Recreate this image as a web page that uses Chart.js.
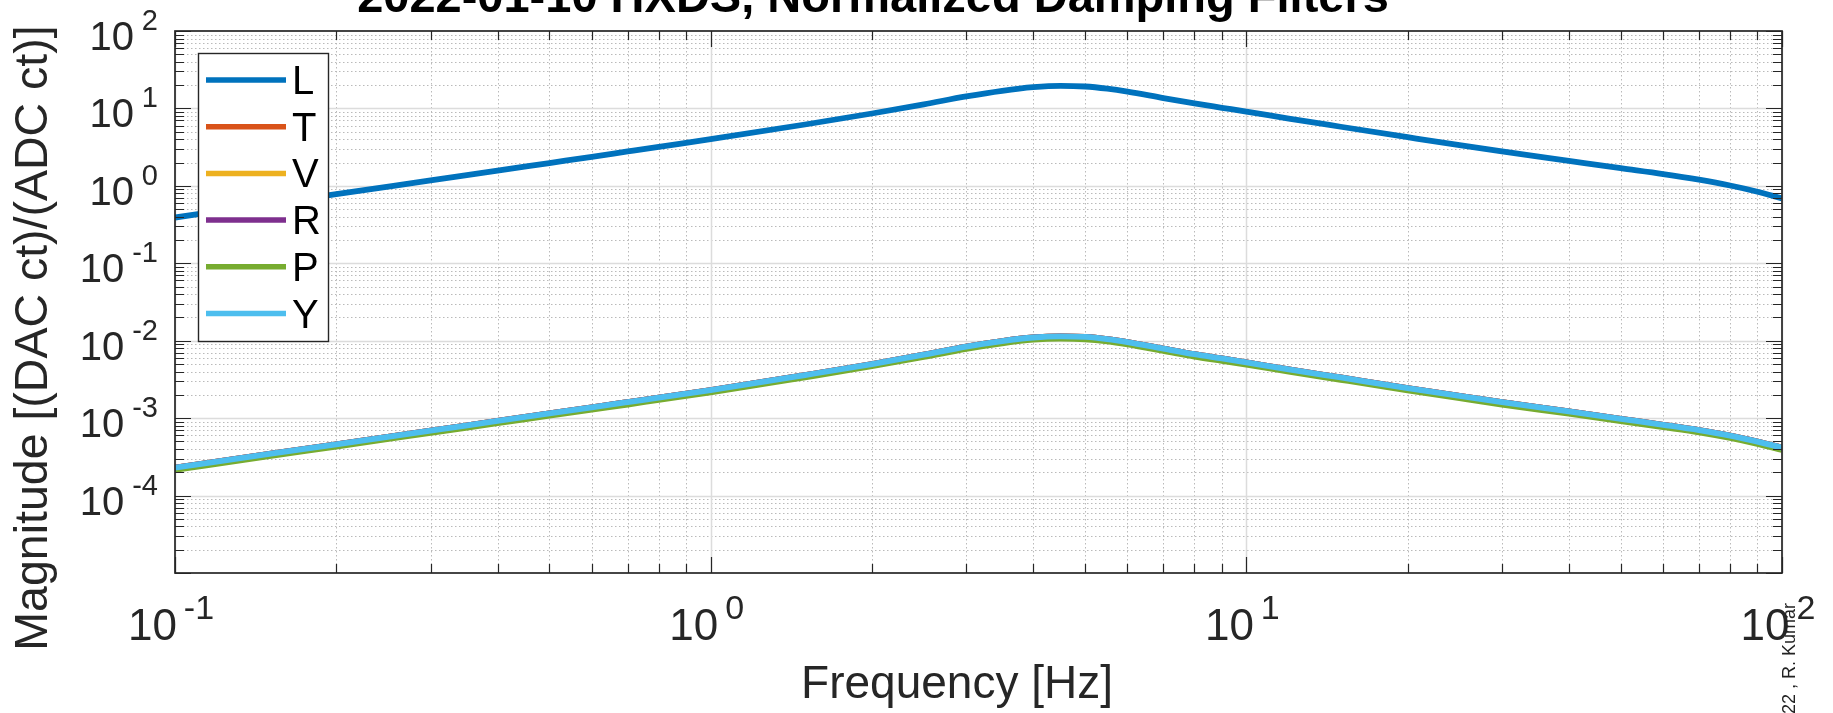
<!DOCTYPE html>
<html><head><meta charset="utf-8">
<script src="https://cdn.jsdelivr.net/npm/chart.js@4/dist/chart.umd.min.js"></script>
<style>html,body{margin:0;padding:0;background:#fff;overflow:hidden}#wrap{position:relative;width:1833px;height:713px}</style>
</head><body><div id="wrap"><canvas id="c" width="1833" height="713"></canvas></div>
<script>
// ---- data ----
const FREQ = [0.1, 0.15, 0.2, 0.3, 0.4, 0.5, 0.6, 0.7, 0.8, 1, 1.5, 2, 2.5, 3, 3.5, 4, 4.5, 5, 5.5, 6, 7, 8, 9, 10, 12, 15, 20, 25, 30, 40, 50, 60, 70, 80, 90, 100];
const L_MAG = [0.39, 0.585, 0.78, 1.175, 1.57, 1.97, 2.37, 2.78, 3.19, 4.0, 6.2, 8.6, 11.3, 14.3, 16.9, 18.8, 19.6, 19.2, 18.0, 16.5, 13.6, 11.6, 10.2, 9.1, 7.4, 5.8, 4.25, 3.35, 2.78, 2.1, 1.69, 1.42, 1.2, 1.01, 0.84, 0.69];
const T_MAG = [2.3e-4, 3.45e-4, 4.6e-4, 6.9e-4, 9.2e-4, 1.15e-3, 1.38e-3, 1.61e-3, 1.84e-3, 2.3e-3, 3.6e-3, 5.0e-3, 6.6e-3, 8.4e-3, 9.9e-3, 1.1e-2, 1.14e-2, 1.12e-2, 1.05e-2, 9.6e-3, 7.9e-3, 6.7e-3, 5.9e-3, 5.25e-3, 4.27e-3, 3.35e-3, 2.45e-3, 1.94e-3, 1.61e-3, 1.22e-3, 9.8e-4, 8.2e-4, 7.0e-4, 5.95e-4, 4.98e-4, 4.15e-4];
const V_MAG = [2.3e-4, 3.45e-4, 4.6e-4, 6.9e-4, 9.2e-4, 1.15e-3, 1.38e-3, 1.61e-3, 1.84e-3, 2.3e-3, 3.6e-3, 5.0e-3, 6.6e-3, 8.4e-3, 9.9e-3, 1.1e-2, 1.14e-2, 1.12e-2, 1.05e-2, 9.6e-3, 7.9e-3, 6.7e-3, 5.9e-3, 5.25e-3, 4.27e-3, 3.35e-3, 2.45e-3, 1.94e-3, 1.61e-3, 1.22e-3, 9.8e-4, 8.2e-4, 7.0e-4, 5.95e-4, 4.98e-4, 4.15e-4];
const R_MAG = [2.3e-4, 3.45e-4, 4.6e-4, 6.9e-4, 9.2e-4, 1.15e-3, 1.38e-3, 1.61e-3, 1.84e-3, 2.3e-3, 3.6e-3, 5.0e-3, 6.6e-3, 8.4e-3, 9.9e-3, 1.1e-2, 1.14e-2, 1.12e-2, 1.05e-2, 9.6e-3, 7.9e-3, 6.7e-3, 5.9e-3, 5.25e-3, 4.27e-3, 3.35e-3, 2.45e-3, 1.94e-3, 1.61e-3, 1.22e-3, 9.8e-4, 8.2e-4, 7.0e-4, 5.95e-4, 4.98e-4, 4.15e-4];
const P_MAG = [2.15e-4, 3.23e-4, 4.3e-4, 6.45e-4, 8.6e-4, 1.075e-3, 1.29e-3, 1.5e-3, 1.72e-3, 2.15e-3, 3.37e-3, 4.68e-3, 6.17e-3, 7.85e-3, 9.25e-3, 1.03e-2, 1.065e-2, 1.045e-2, 9.8e-3, 8.95e-3, 7.4e-3, 6.25e-3, 5.5e-3, 4.9e-3, 4.0e-3, 3.13e-3, 2.29e-3, 1.81e-3, 1.5e-3, 1.14e-3, 9.15e-4, 7.65e-4, 6.55e-4, 5.55e-4, 4.65e-4, 3.88e-4];
const Y_MAG = [2.3e-4, 3.45e-4, 4.6e-4, 6.9e-4, 9.2e-4, 1.15e-3, 1.38e-3, 1.61e-3, 1.84e-3, 2.3e-3, 3.6e-3, 5.0e-3, 6.6e-3, 8.4e-3, 9.9e-3, 1.1e-2, 1.14e-2, 1.12e-2, 1.05e-2, 9.6e-3, 7.9e-3, 6.7e-3, 5.9e-3, 5.25e-3, 4.27e-3, 3.35e-3, 2.45e-3, 1.94e-3, 1.61e-3, 1.22e-3, 9.8e-4, 8.2e-4, 7.0e-4, 5.95e-4, 4.98e-4, 4.15e-4];
const SERIES_NAMES = ['L', 'T', 'V', 'R', 'P', 'Y'];
const X_TICK_EXPONENTS = [-1, 0, 1, 2];
const Y_TICK_EXPONENTS = [2, 1, 0, -1, -2, -3, -4];
const TITLE = '2022-01-10 HXDS, Normalized Damping Filters';
const X_LABEL = 'Frequency [Hz]';
const Y_LABEL = 'Magnitude [(DAC ct)/(ADC ct)]';
const CREDIT = '2022 , R. Kumar';

// ---- styles ----
const COLORS = ['#0072BD', '#D95319', '#EDB120', '#7E2F8E', '#77AC30', '#4DBEEE'];
const FONT = '"Liberation Sans", Arial, Helvetica, sans-serif';
const AX = '#262626';
const SERIES_VALUES = [L_MAG, T_MAG, V_MAG, R_MAG, P_MAG, Y_MAG];

function powLabel(ctx, exp, mainFont, supFont, gap) {
  ctx.font = mainFont; const wm = ctx.measureText('10').width;
  ctx.font = supFont; const ws = ctx.measureText(String(exp)).width;
  return {wm, ws, total: wm + gap + ws};
}

const matlabPlugin = {
  id: 'matlab',
  beforeDatasetsDraw(chart) {
    const ctx = chart.ctx, a = chart.chartArea, xs = chart.scales.x, ys = chart.scales.y;
    ctx.save();
    ctx.lineWidth = 1;
    // minor grid (dotted)
    ctx.strokeStyle = '#bababa';
    ctx.setLineDash([1.5, 2.5]);
    ctx.beginPath();
    for (let d = -1; d < 2; d++) for (let m = 2; m <= 9; m++) {
      const px = Math.round(xs.getPixelForValue(m * Math.pow(10, d))) + 0.5;
      ctx.moveTo(px, a.top); ctx.lineTo(px, a.bottom);
    }
    for (let d = -5; d < 2; d++) for (let m = 2; m <= 9; m++) {
      const py = Math.round(ys.getPixelForValue(m * Math.pow(10, d))) + 0.5;
      ctx.moveTo(a.left, py); ctx.lineTo(a.right, py);
    }
    ctx.stroke();
    // major grid (solid)
    ctx.setLineDash([]);
    ctx.strokeStyle = '#dcdcdc';
    ctx.lineWidth = 1.5;
    ctx.beginPath();
    X_TICK_EXPONENTS.forEach(e => {
      const px = Math.round(xs.getPixelForValue(Math.pow(10, e))) + 0.5;
      ctx.moveTo(px, a.top); ctx.lineTo(px, a.bottom);
    });
    for (let e = -4; e <= 1; e++) {
      const py = Math.round(ys.getPixelForValue(Math.pow(10, e))) + 0.5;
      ctx.moveTo(a.left, py); ctx.lineTo(a.right, py);
    }
    ctx.stroke();
    ctx.restore();
  },
  afterDraw(chart) {
    const ctx = chart.ctx, a = chart.chartArea, xs = chart.scales.x, ys = chart.scales.y;
    ctx.save();
    // ticks (inside, all four sides)
    ctx.strokeStyle = AX; ctx.lineWidth = 1.2;
    ctx.beginPath();
    for (let d = -1; d <= 2; d++) for (let m = 1; m <= 9; m++) {
      const v = m * Math.pow(10, d); if (v > 100.0001) break;
      const px = Math.round(xs.getPixelForValue(v)) + 0.5;
      const len = m === 1 ? 16 : 9;
      ctx.moveTo(px, a.bottom); ctx.lineTo(px, a.bottom - len);
      ctx.moveTo(px, a.top); ctx.lineTo(px, a.top + len);
    }
    for (let d = -5; d <= 2; d++) for (let m = 1; m <= 9; m++) {
      const v = m * Math.pow(10, d); if (v > 100.0001) break;
      const py = Math.round(ys.getPixelForValue(v)) + 0.5;
      const len = m === 1 ? 16 : 9;
      ctx.moveTo(a.left, py); ctx.lineTo(a.left + len, py);
      ctx.moveTo(a.right, py); ctx.lineTo(a.right - len, py);
    }
    ctx.stroke();
    // box
    ctx.lineWidth = 1.7;
    ctx.strokeRect(a.left, a.top, a.right - a.left, a.bottom - a.top);

    // y tick labels
    ctx.fillStyle = AX; ctx.textBaseline = 'alphabetic'; ctx.textAlign = 'left';
    const yMain = '40px ' + FONT, ySup = '29px ' + FONT;
    Y_TICK_EXPONENTS.forEach(e => {
      const py = ys.getPixelForValue(Math.pow(10, e));
      const m = powLabel(ctx, e, yMain, ySup, 8);
      const supX = a.left - 17 - m.ws;
      ctx.font = ySup; ctx.fillText(String(e), supX, py - 1);
      ctx.font = yMain; ctx.fillText('10', supX - 8 - m.wm, py + 19);
    });
    // x tick labels
    const xMain = '44px ' + FONT, xSup = '34px ' + FONT;
    X_TICK_EXPONENTS.forEach(e => {
      const px = xs.getPixelForValue(Math.pow(10, e));
      const m = powLabel(ctx, e, xMain, xSup, 7);
      const x0 = px - 4 - m.total / 2;
      ctx.font = xMain; ctx.fillText('10', x0, 640);
      ctx.font = xSup; ctx.fillText(String(e), x0 + m.wm + 7, 619);
    });

    // axis labels
    ctx.font = '46px ' + FONT; ctx.textAlign = 'center';
    ctx.fillText(X_LABEL, 957, 698);
    ctx.save();
    ctx.font = '46.5px ' + FONT;
    ctx.translate(47, 338); ctx.rotate(-Math.PI / 2);
    ctx.fillText(Y_LABEL, 0, 0);
    ctx.restore();

    // title (bold, partially clipped at top)
    ctx.fillStyle = '#000';
    ctx.font = 'bold 47px ' + FONT;
    ctx.fillText(TITLE, 873, 12);

    // credit (rotated, bottom right)
    ctx.save();
    ctx.fillStyle = '#222';
    ctx.font = '18px ' + FONT; ctx.textAlign = 'right';
    ctx.translate(1795, 603); ctx.rotate(-Math.PI / 2);
    ctx.fillText(CREDIT, 0, 0);
    ctx.restore();

    // legend
    const lx = 198, ly = 53, lw = 130, lh = 288;
    ctx.fillStyle = '#fff';
    ctx.fillRect(lx, ly, lw, lh);
    ctx.strokeStyle = AX; ctx.lineWidth = 1.4;
    ctx.strokeRect(lx + 0.5, ly + 0.5, lw, lh);
    ctx.font = '40px ' + FONT; ctx.textAlign = 'left';
    chart.data.datasets.forEach((ds, i) => {
      const cy = 80 + i * 46.7;
      ctx.strokeStyle = ds.borderColor; ctx.lineWidth = 5.5; ctx.lineCap = 'butt';
      ctx.beginPath(); ctx.moveTo(206, cy); ctx.lineTo(286, cy); ctx.stroke();
      ctx.fillStyle = '#000';
      ctx.fillText(ds.label, 292, cy + 14);
    });
    ctx.restore();
  }
};

const datasets = SERIES_NAMES.map((name, i) => ({
  label: name,
  data: FREQ.map((f, k) => ({x: f, y: SERIES_VALUES[i][k]})),
  borderColor: COLORS[i],
  backgroundColor: COLORS[i],
  borderWidth: 5.8,
  pointRadius: 0,
  fill: false,
  cubicInterpolationMode: 'monotone',
  borderJoinStyle: 'round',
  clip: 0,
  order: SERIES_NAMES.length - i
}));

new Chart(document.getElementById('c').getContext('2d'), {
  type: 'line',
  data: {datasets},
  options: {
    responsive: false,
    animation: false,
    devicePixelRatio: 1,
    layout: {padding: {left: 175, right: 51, top: 31, bottom: 140}},
    plugins: {legend: {display: false}, title: {display: false}, tooltip: {enabled: false}},
    scales: {
      x: {type: 'logarithmic', min: 0.1, max: 100,
          grid: {display: false, drawTicks: false}, ticks: {display: false}, border: {display: false},
          afterFit(s) { s.height = 0; }},
      y: {type: 'logarithmic', min: 1e-5, max: 100,
          grid: {display: false, drawTicks: false}, ticks: {display: false}, border: {display: false},
          afterFit(s) { s.width = 0; }}
    }
  },
  plugins: [matlabPlugin]
});
</script>
</body></html>
